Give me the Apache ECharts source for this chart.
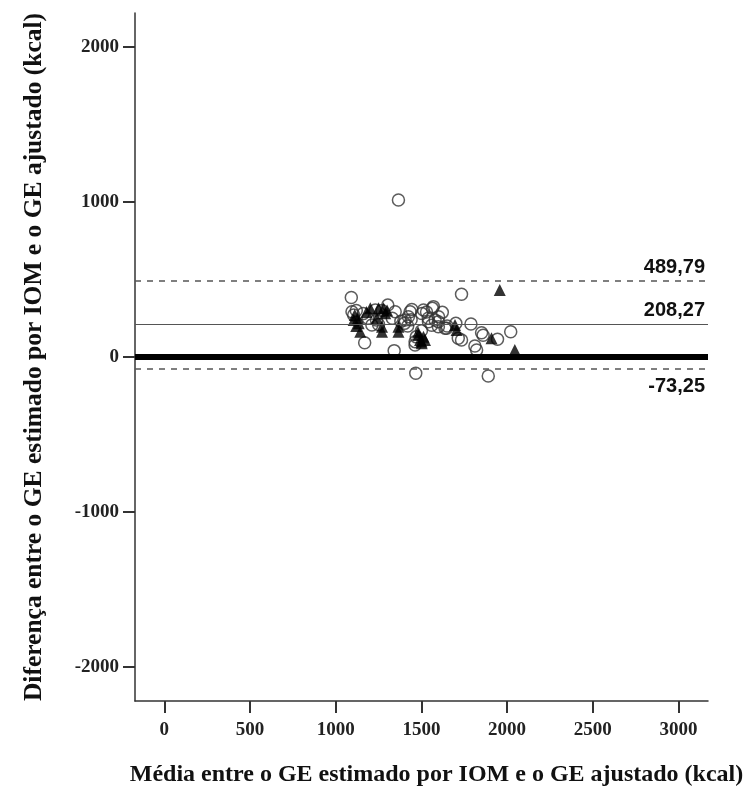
<!DOCTYPE html>
<html>
<head>
<meta charset="utf-8">
<script src="https://cdn.jsdelivr.net/npm/echarts@6/dist/echarts.min.js"></script>
<style>
  html, body { margin: 0; padding: 0; background: #fff; }
  #chart { width: 753px; height: 788px; }
</style>
</head>
<body>
<div id="chart"></div>
<script>
// pontos abertos (círculos): média e diferença
const openMean = [1366, 1091, 1734, 1095, 1105, 1304, 1347, 1424, 1444, 1502, 1564, 1622, 1580, 1647, 1701,
  1789, 1851, 1944, 2021, 1734, 1812, 1822, 1341, 1169, 1211, 1188, 1401, 1463, 1467, 1890, 1599, 1238,
  1231, 1160, 1270, 1330, 1380, 1420, 1540, 1560, 1600, 1650, 1715, 1860, 1470, 1500, 1250, 1120, 1440, 1530,
  1463, 1570, 1541, 1599, 1638, 1405, 1434, 1512]
const openDiff = [1013, 384, 405, 292, 271, 335, 292, 260, 307, 281, 314, 288, 239, 185, 217,
  213, 157, 114, 163, 110, 71, 45, 41, 92, 206, 250, 217, 99, -105, -123, 228, 239,
  303, 280, 300, 250, 230, 200, 250, 205, 260, 200, 121, 140, 130, 170, 210, 300, 240, 290,
  77, 325, 228, 195, 185, 239, 292, 303]
// pontos cheios (triângulos)
const filledMean = [1957, 2045, 1105, 1143, 1134, 1202, 1250, 1270, 1366, 1483, 1512, 1492, 1289, 1696, 1705,
  1909, 1111, 1240, 1180, 1300, 1500, 1120, 1480, 1521, 1502, 1270, 1366, 1279, 1130]
const filledDiff = [432, 45, 239, 163, 217, 314, 314, 163, 163, 142, 131, 110, 282, 206, 174,
  121, 271, 250, 290, 300, 100, 200, 160, 110, 88, 195, 195, 314, 250]
// linhas de referência
const meanDiff = 208.27
const upperLimit = 489.79
const lowerLimit = -73.25
const xTicks = [0, 500, 1000, 1500, 2000, 2500, 3000]
const yTicks = [-2000, -1000, 0, 1000, 2000]

const serif = 'Liberation Serif'
const sans = 'Liberation Sans'

const chart = echarts.init(document.getElementById('chart'))

const limitLabel = (pos, dist) => ({
  show: true,
  position: pos,
  formatter: (p) => p.value.toFixed(2).replace('.', ','),
  fontFamily: sans,
  fontWeight: 'bold',
  fontSize: 20,
  color: '#111',
  distance: [3, dist]
})

const option = {
  animation: false,
  backgroundColor: '#fff',
  grid: { left: 135, right: 45, top: 13, bottom: 87, outerBoundsMode: 'none', containLabel: false },
  xAxis: {
    type: 'value',
    min: -171,
    max: 3172,
    name: 'Média entre o GE estimado por IOM e o GE ajustado (kcal)',
    nameLocation: 'middle',
    nameGap: 62,
    nameTextStyle: { fontFamily: serif, fontWeight: 'bold', fontSize: 24, color: '#111', padding: [0, 0, 0, 30] },
    axisLine: { show: true, onZero: false, lineStyle: { color: '#333', width: 1.5 } },
    axisTick: { show: true, length: 12, customValues: xTicks, lineStyle: { color: '#333', width: 2 } },
    axisLabel: { customValues: xTicks, formatter: (v) => String(v), fontFamily: serif, fontWeight: 'bold', fontSize: 19, color: '#222', margin: 20 },
    splitLine: { show: false }
  },
  yAxis: {
    type: 'value',
    min: -2220,
    max: 2220,
    name: 'Diferença entre o GE estimado por IOM e o GE ajustado (kcal)',
    nameLocation: 'middle',
    nameGap: 88,
    nameTextStyle: { fontFamily: serif, fontWeight: 'bold', fontSize: 25.5, color: '#111' },
    axisLine: { show: true, onZero: false, lineStyle: { color: '#333', width: 1.5 } },
    axisTick: { show: true, length: 12, customValues: yTicks, lineStyle: { color: '#333', width: 2 } },
    axisLabel: { customValues: yTicks, formatter: (v) => String(v), fontFamily: serif, fontWeight: 'bold', fontSize: 19, color: '#222', margin: 16 },
    splitLine: { show: false }
  },
  series: [
    {
      type: 'scatter',
      data: openMean.map((x, i) => [x, openDiff[i]]),
      symbol: 'circle',
      symbolSize: 12,
      itemStyle: { color: 'transparent', borderColor: '#333', borderWidth: 1.5 },
      z: 3,
      markLine: {
        silent: true,
        symbol: 'none',
        animation: false,
        data: [
          { yAxis: upperLimit, lineStyle: { type: [6, 6], color: '#555', width: 1.5 }, label: limitLabel('insideEndTop', 4) },
          { yAxis: meanDiff, lineStyle: { type: 'solid', color: '#555', width: 1.2 }, label: limitLabel('insideEndTop', 4) },
          { yAxis: 0, lineStyle: { type: 'solid', color: '#000', width: 6 }, label: { show: false } },
          { yAxis: lowerLimit, lineStyle: { type: [6, 6], color: '#555', width: 1.5 }, label: limitLabel('insideEndBottom', 8) }
        ]
      }
    },
    {
      type: 'scatter',
      data: filledMean.map((x, i) => [x, filledDiff[i]]),
      symbol: 'triangle',
      symbolSize: 12,
      itemStyle: { color: '#000' },
      z: 4
    }
  ]
}

chart.setOption(option)
</script>
</body>
</html>
